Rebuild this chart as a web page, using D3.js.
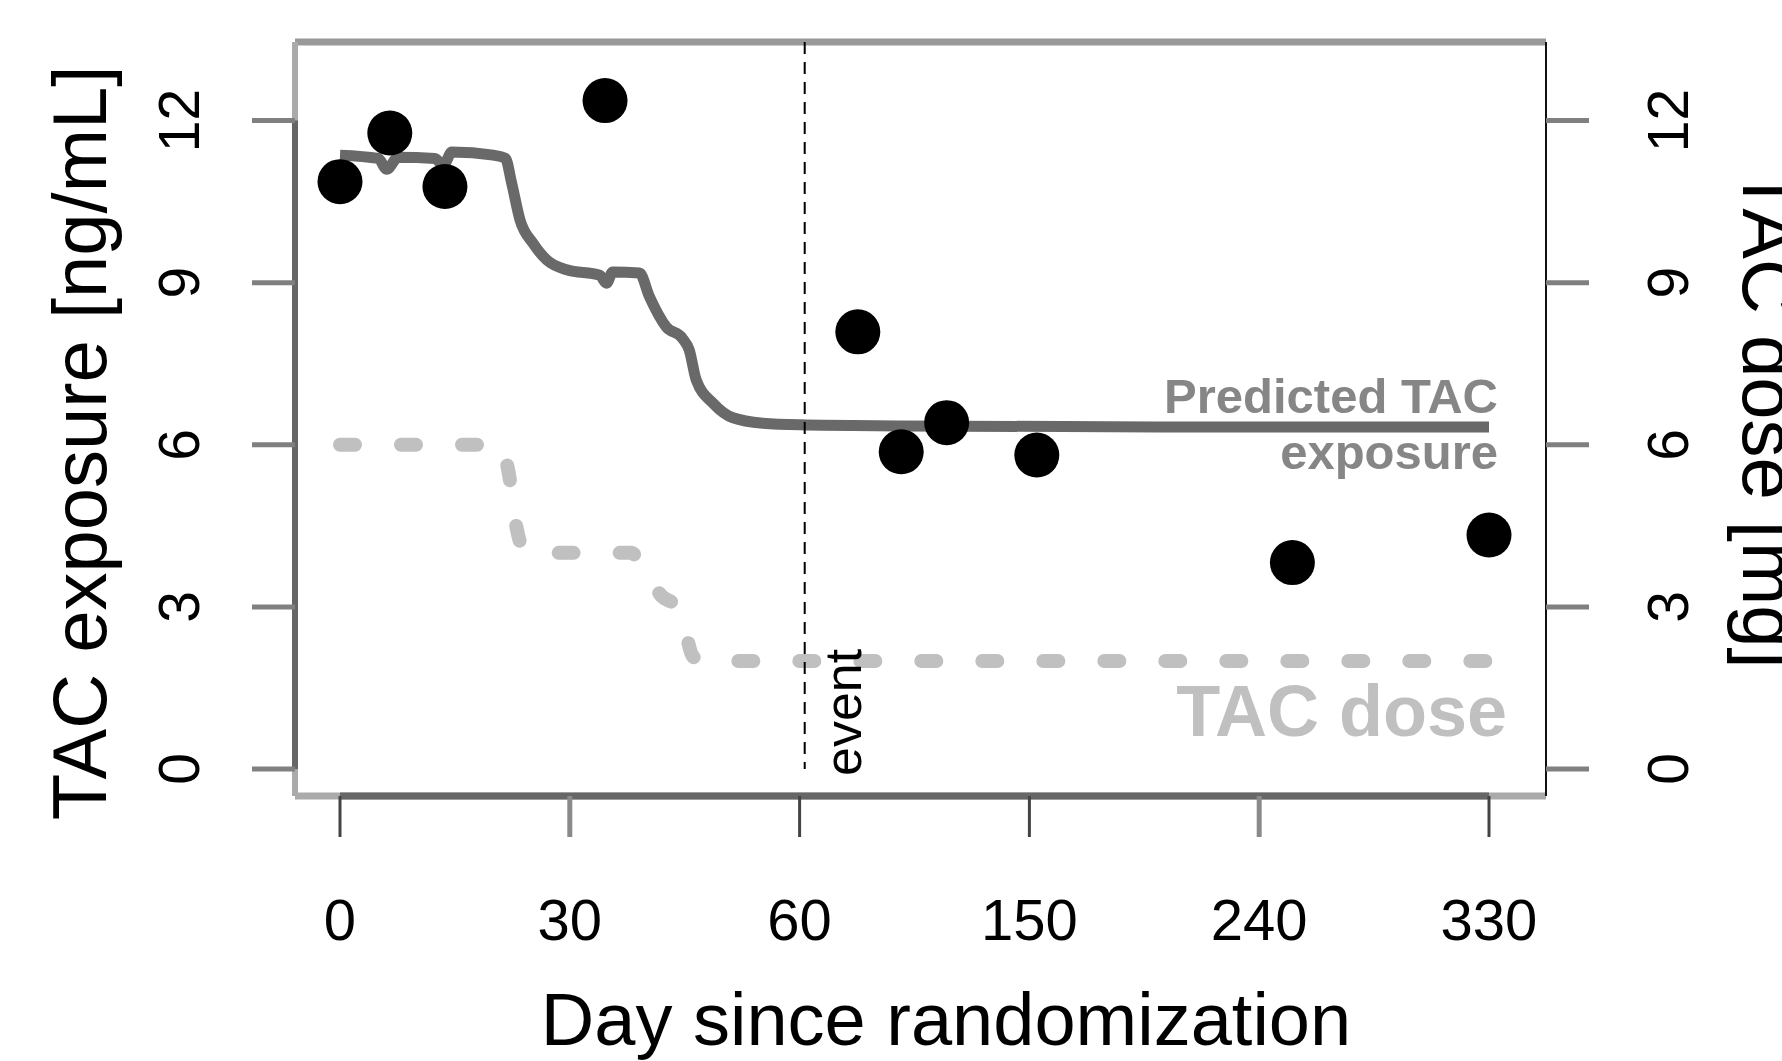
<!DOCTYPE html>
<html>
<head>
<meta charset="utf-8">
<script src="https://cdn.jsdelivr.net/npm/d3@7"></script>
<style>
  html, body { margin: 0; padding: 0; background: #fff; }
  svg text { font-family: "Liberation Sans", Arial, Helvetica, sans-serif; }
</style>
</head>
<body>
<div id="chart"></div>
<script>
// axis ticks (x axis is broken: 0-60 and 60-330 at different scales)
const xTickValues = [0, 30, 60, 150, 240, 330];
const yTickValues = [0, 3, 6, 9, 12];

// observed TAC concentrations
const obsDay = [0, 6.5, 13.7, 34.6, 82.8, 99.8, 117.6, 152.9, 253, 330];
const obsConc = [10.87, 11.77, 10.78, 12.37, 8.09, 5.87, 6.41, 5.81, 3.82, 4.33];

// predicted TAC exposure
const predDay = [0, 5, 6.1, 7.6, 12.4, 13.5, 14.6, 20, 21.6, 22.4, 23.5, 25.2, 27, 29.6, 33.9, 34.8, 35.6, 39.1,
                 40.4, 42.6, 44.7, 45.6, 46.5, 48.7, 51.3, 55.2, 60, 100, 200, 330];
const predConc = [11.36, 11.3, 11.1, 11.32, 11.3, 11.17, 11.42, 11.36, 11.3, 10.85, 10.16, 9.73, 9.42, 9.24, 9.14, 8.99, 9.2, 9.18,
                  8.74, 8.18, 7.97, 7.75, 7.2, 6.77, 6.5, 6.4, 6.37, 6.35, 6.33, 6.33];

// TAC dose (right axis, mg)
const doseDay = [0, 21, 22, 23, 24, 25, 38, 40, 42, 44, 45, 46, 47, 330];
const doseMg = [6, 6, 5.5, 4.5, 4.05, 4, 4, 3.6, 3.2, 3.0, 2.6, 2.1, 2, 2];

const eventDay = 62;

const width = 1782, height = 1061;
const box = { left: 295, right: 1546, top: 42, bottom: 796 };

const svg = d3.select('#chart').append('svg')
    .attr('width', width)
    .attr('height', height);

const xStep = 229.8;
const x = d3.scaleLinear()
    .domain(xTickValues)
    .range(xTickValues.map((d, i) => 340 + i * xStep));
const y = d3.scaleLinear().domain([0, 12]).range([769, 120.6]);

// box
svg.append('line').attr('x1', box.left).attr('x2', box.right).attr('y1', box.top).attr('y2', box.top)
    .attr('stroke', '#999').attr('stroke-width', 7);
svg.append('line').attr('x1', box.left).attr('x2', box.left).attr('y1', box.top).attr('y2', box.bottom)
    .attr('stroke', '#aaa').attr('stroke-width', 6);
svg.append('line').attr('x1', box.left).attr('x2', box.right).attr('y1', box.bottom).attr('y2', box.bottom)
    .attr('stroke', '#aaa').attr('stroke-width', 7);
svg.append('line').attr('x1', box.right).attr('x2', box.right).attr('y1', box.top).attr('y2', box.bottom)
    .attr('stroke', '#111').attr('stroke-width', 2);

// axis lines
svg.append('line').attr('x1', box.left).attr('x2', box.left).attr('y1', y(0)).attr('y2', y(12))
    .attr('stroke', '#666').attr('stroke-width', 6);
svg.append('line').attr('x1', x(0)).attr('x2', x(330)).attr('y1', box.bottom).attr('y2', box.bottom)
    .attr('stroke', '#666').attr('stroke-width', 7);

// x ticks
const lightTicks = [30, 240];
svg.append('g').selectAll('line')
    .data(xTickValues)
    .enter().append('line')
    .attr('x1', d => x(d)).attr('x2', d => x(d))
    .attr('y1', box.bottom).attr('y2', box.bottom + 41)
    .attr('stroke', d => lightTicks.includes(d) ? '#8a8a8a' : '#444')
    .attr('stroke-width', d => lightTicks.includes(d) ? 5 : 3);

svg.append('g').selectAll('text')
    .data(xTickValues)
    .enter().append('text')
    .attr('x', d => x(d))
    .attr('y', 940)
    .attr('text-anchor', 'middle')
    .attr('font-size', '58px')
    .attr('fill', '#000')
    .text(d => d);

// y ticks, left and right
[[box.left, -43, 199], [box.right, 43, 1688]].forEach(([x0, len, lx]) => {
    svg.append('g').selectAll('line')
        .data(yTickValues)
        .enter().append('line')
        .attr('x1', x0).attr('x2', x0 + len)
        .attr('y1', d => y(d)).attr('y2', d => y(d))
        .attr('stroke', '#808080')
        .attr('stroke-width', 5);

    svg.append('g').selectAll('text')
        .data(yTickValues)
        .enter().append('text')
        .attr('transform', d => `translate(${lx},${y(d)}) rotate(-90)`)
        .attr('text-anchor', 'middle')
        .attr('font-size', '57px')
        .attr('fill', '#000')
        .text(d => d);
});

// axis titles
svg.append('text')
    .attr('transform', 'translate(106,443) rotate(-90)')
    .attr('text-anchor', 'middle')
    .attr('font-size', '76px')
    .text('TAC exposure [ng/mL]');

svg.append('text')
    .attr('transform', 'translate(1743,418) rotate(90)')
    .attr('text-anchor', 'middle')
    .attr('font-size', '76px')
    .text('TAC dose [mg]');

svg.append('text')
    .attr('x', 946)
    .attr('y', 1045)
    .attr('text-anchor', 'middle')
    .attr('font-size', '74px')
    .text('Day since randomization');

// dose curve
const doseData = doseDay.map((d, i) => [d, doseMg[i]]);
svg.append('path')
    .datum(doseData)
    .attr('d', d3.line().x(d => x(d[0])).y(d => y(d[1])).curve(d3.curveMonotoneX))
    .attr('fill', 'none')
    .attr('stroke', '#c0c0c0')
    .attr('stroke-width', 14)
    .attr('stroke-linecap', 'round')
    .attr('stroke-dasharray', '15,46');

// predicted exposure
const predData = predDay.map((d, i) => [d, predConc[i]]);
svg.append('path')
    .datum(predData)
    .attr('d', d3.line().x(d => x(d[0])).y(d => y(d[1])).curve(d3.curveMonotoneX))
    .attr('fill', 'none')
    .attr('stroke', '#696969')
    .attr('stroke-width', 11)
    .attr('stroke-linejoin', 'round');

// event line
svg.append('line')
    .attr('x1', x(eventDay)).attr('x2', x(eventDay))
    .attr('y1', box.top).attr('y2', y(0))
    .attr('stroke', '#000')
    .attr('stroke-width', 2)
    .attr('stroke-dasharray', '12,8');

svg.append('text')
    .attr('transform', `translate(${x(eventDay) + 56},776) rotate(-90)`)
    .attr('font-size', '52px')
    .text('event');

// observations
svg.append('g').selectAll('circle')
    .data(obsDay.map((d, i) => [d, obsConc[i]]))
    .enter().append('circle')
    .attr('cx', d => x(d[0]))
    .attr('cy', d => y(d[1]))
    .attr('r', 22.5)
    .attr('fill', '#000');

// in-plot labels
svg.append('text')
    .attr('x', 1498).attr('y', 413)
    .attr('text-anchor', 'end')
    .attr('font-size', '49px')
    .attr('font-weight', 'bold')
    .attr('fill', '#868686')
    .text('Predicted TAC');
svg.append('text')
    .attr('x', 1498).attr('y', 469)
    .attr('text-anchor', 'end')
    .attr('font-size', '49px')
    .attr('font-weight', 'bold')
    .attr('fill', '#868686')
    .text('exposure');

svg.append('text')
    .attr('x', 1507).attr('y', 736)
    .attr('text-anchor', 'end')
    .attr('font-size', '72px')
    .attr('font-weight', 'bold')
    .attr('fill', '#c0c0c0')
    .text('TAC dose');
</script>
</body>
</html>
